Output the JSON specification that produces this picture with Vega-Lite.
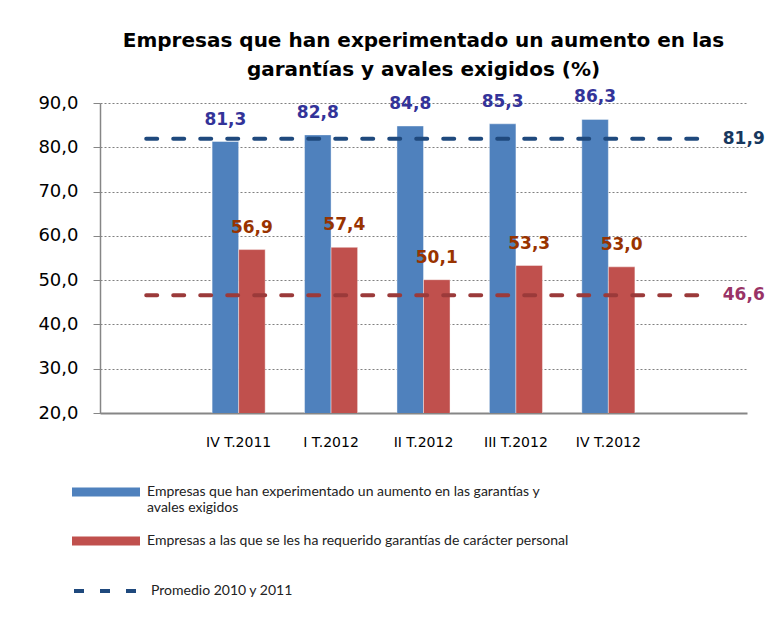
{
  "$schema": "https://vega.github.io/schema/vega-lite/v6.json",
  "autosize": {"type": "none"},
  "padding": {"left": 100, "top": 103, "right": 24, "bottom": 215},
  "width": 647,
  "height": 310,
  "background": "#ffffff",
  "config": {
    "locale": {"number": {"decimal": ",", "thousands": ".", "grouping": [3], "currency": ["", " €"]}},
    "view": {"stroke": null},
    "font": "DejaVu Sans"
  },
  "title": {
    "text": ["Empresas que han experimentado un aumento en las", "garantías y avales exigidos  (%)"],
    "font": "DejaVu Sans",
    "fontSize": 20,
    "fontWeight": "bold",
    "color": "#000000",
    "anchor": "middle",
    "lineHeight": 29,
    "offset": 8
  },
  "datasets": {
    "barras": [
      {"periodo": "IV T.2011", "serie": "Empresas que han experimentado un aumento en las garantías y avales exigidos", "valor": 81.3},
      {"periodo": "IV T.2011", "serie": "Empresas a las que se les ha requerido garantías de carácter personal", "valor": 56.9},
      {"periodo": "I T.2012", "serie": "Empresas que han experimentado un aumento en las garantías y avales exigidos", "valor": 82.8},
      {"periodo": "I T.2012", "serie": "Empresas a las que se les ha requerido garantías de carácter personal", "valor": 57.4},
      {"periodo": "II T.2012", "serie": "Empresas que han experimentado un aumento en las garantías y avales exigidos", "valor": 84.8},
      {"periodo": "II T.2012", "serie": "Empresas a las que se les ha requerido garantías de carácter personal", "valor": 50.1},
      {"periodo": "III T.2012", "serie": "Empresas que han experimentado un aumento en las garantías y avales exigidos", "valor": 85.3},
      {"periodo": "III T.2012", "serie": "Empresas a las que se les ha requerido garantías de carácter personal", "valor": 53.3},
      {"periodo": "IV T.2012", "serie": "Empresas que han experimentado un aumento en las garantías y avales exigidos", "valor": 86.3},
      {"periodo": "IV T.2012", "serie": "Empresas a las que se les ha requerido garantías de carácter personal", "valor": 53.0}
    ],
    "promedioA": [
      {"periodo": " ", "serie": "Promedio 2010 y 2011", "valor": 81.9},
      {"periodo": "  ", "serie": "Promedio 2010 y 2011", "valor": 81.9}
    ],
    "promedioB": [
      {"periodo": " ", "valor": 46.6},
      {"periodo": "  ", "valor": 46.6}
    ]
  },
  "encoding": {
    "x": {
      "field": "periodo",
      "type": "nominal",
      "sort": null,
      "scale": {"domain": [" ", "IV T.2011", "I T.2012", "II T.2012", "III T.2012", "IV T.2012", "  "], "paddingInner": 0.426, "paddingOuter": 0.213},
      "axis": {
        "title": null,
        "labelAngle": 0,
        "ticks": false,
        "grid": false,
        "domainColor": "#868686",
        "domainWidth": 2,
        "labelFont": "DejaVu Sans",
        "labelFontSize": 14,
        "labelColor": "#000000",
        "labelPadding": 22
      }
    },
    "y": {
      "field": "valor",
      "type": "quantitative",
      "scale": {"domain": [20, 90], "nice": false, "zero": false},
      "axis": {
        "title": null,
        "values": [20, 30, 40, 50, 60, 70, 80, 90],
        "format": ".1f",
        "labelFont": "DejaVu Sans",
        "labelFontSize": 18,
        "labelColor": "#000000",
        "labelPadding": 15,
        "tickSize": 7,
        "tickColor": "#868686",
        "domainColor": "#868686",
        "domainWidth": 1.5,
        "gridColor": "#808080",
        "gridDash": [2, 2],
        "gridWidth": 1
      }
    }
  },
  "layer": [
    {
      "data": {"name": "barras"},
      "transform": [{"filter": "datum.serie === 'Empresas que han experimentado un aumento en las garantías y avales exigidos'"}],
      "mark": {"type": "bar", "stroke": "#ffffff", "strokeOpacity": 0.4, "strokeWidth": 1, "clip": true},
      "encoding": {
        "xOffset": {
          "field": "serie",
          "type": "nominal",
          "sort": null,
          "scale": {"domain": ["Empresas que han experimentado un aumento en las garantías y avales exigidos", "Empresas a las que se les ha requerido garantías de carácter personal"], "paddingInner": 0}
        },
        "fill": {
          "field": "serie",
          "type": "nominal",
          "scale": {
            "domain": ["Empresas que han experimentado un aumento en las garantías y avales exigidos"],
            "range": ["#4F81BD"]
          },
          "legend": {
            "title": null,
            "orient": "none",
            "legendX": -28,
            "legendY": 355,
            "symbolType": "M-1,-0.13H1V0.13H-1Z",
            "symbolSize": 4624,
            "symbolStrokeWidth": 0,
            "symbolOpacity": 1,
            "labelFont": "Lato",
            "labelFontSize": 14,
            "labelColor": "#222222",
            "labelLimit": 700,
            "labelOffset": 7,
            "labelBaseline": "middle",
            "labelExpr": "['Empresas que han experimentado un aumento en las garantías y', 'avales exigidos']"
          }
        }
      }
    },
    {
      "data": {"name": "barras"},
      "transform": [{"filter": "datum.serie === 'Empresas a las que se les ha requerido garantías de carácter personal'"}],
      "mark": {"type": "bar", "stroke": "#ffffff", "strokeOpacity": 0.4, "strokeWidth": 1, "clip": true},
      "encoding": {
        "xOffset": {"field": "serie", "type": "nominal", "sort": null},
        "color": {
          "field": "serie",
          "type": "nominal",
          "scale": {
            "domain": ["Empresas a las que se les ha requerido garantías de carácter personal"],
            "range": ["#C0504D"]
          },
          "legend": {
            "title": null,
            "orient": "none",
            "legendX": -28,
            "legendY": 404,
            "symbolType": "M-1,-0.13H1V0.13H-1Z",
            "symbolSize": 4624,
            "symbolStrokeWidth": 0,
            "symbolOpacity": 1,
            "labelFont": "Lato",
            "labelFontSize": 14,
            "labelColor": "#222222",
            "labelLimit": 700,
            "labelOffset": 7,
            "labelBaseline": "middle"
          }
        }
      }
    },
    {
      "data": {"name": "barras"},
      "mark": {"type": "text", "baseline": "bottom", "dy": -13, "fontWeight": "bold", "fontSize": 17, "font": "DejaVu Sans"},
      "encoding": {
        "xOffset": {"field": "serie", "type": "nominal", "sort": null},
        "text": {"field": "valor", "type": "quantitative", "format": ".1f"},
        "fill": {
          "condition": {"test": "datum.serie === 'Empresas que han experimentado un aumento en las garantías y avales exigidos'", "value": "#333399"},
          "value": "#993300"
        }
      }
    },
    {
      "data": {"name": "promedioA"},
      "mark": {"type": "line", "strokeWidth": 4, "strokeDash": [11, 16], "strokeCap": "round"},
      "encoding": {
        "stroke": {
          "field": "serie",
          "type": "nominal",
          "scale": {"domain": ["Promedio 2010 y 2011"], "range": ["#1F497D"]},
          "legend": {
            "title": null,
            "orient": "none",
            "legendX": -28,
            "legendY": 452,
            "symbolType": "stroke",
            "symbolSize": 4624,
            "symbolStrokeWidth": 4,
            "symbolDash": [10, 16],
            "labelFont": "Lato",
            "labelFontSize": 14,
            "labelColor": "#222222",
            "labelOffset": 7,
            "labelLimit": 700
          }
        }
      }
    },
    {
      "data": {"name": "promedioB"},
      "mark": {"type": "line", "strokeWidth": 4, "strokeDash": [11, 16], "strokeCap": "round", "stroke": "#9B3A3A"},
      "encoding": {}
    },
    {
      "data": {"name": "promedioA"},
      "transform": [{"filter": "datum.periodo === '  '"}],
      "mark": {"type": "text", "align": "left", "dx": 22, "fontWeight": "bold", "fontSize": 17, "font": "DejaVu Sans", "color": "#17375E"},
      "encoding": {"text": {"field": "valor", "type": "quantitative", "format": ".1f"}}
    },
    {
      "data": {"name": "promedioB"},
      "transform": [{"filter": "datum.periodo === '  '"}],
      "mark": {"type": "text", "align": "left", "dx": 22, "fontWeight": "bold", "fontSize": 17, "font": "DejaVu Sans", "color": "#993366"},
      "encoding": {"text": {"field": "valor", "type": "quantitative", "format": ".1f"}}
    }
  ]
}
